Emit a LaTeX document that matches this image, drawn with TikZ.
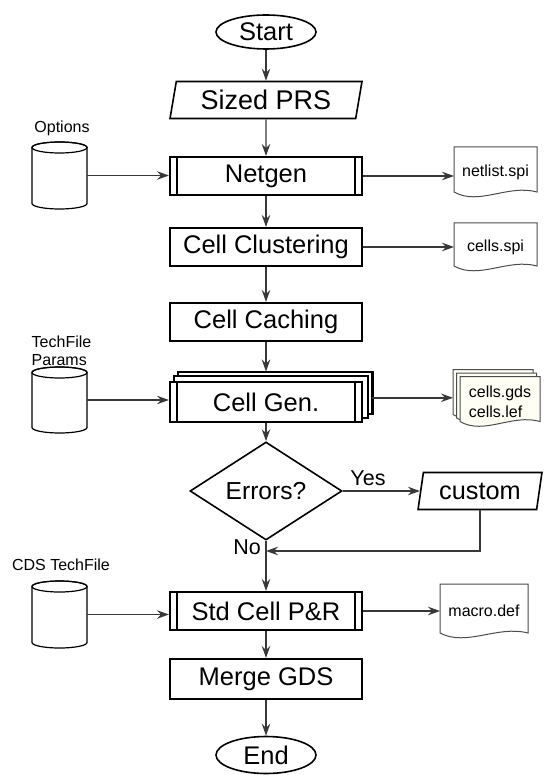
\documentclass[tikz,border=0pt]{standalone}
\usepackage{fontspec}
\setmainfont{Liberation Sans}
\usetikzlibrary{shapes.geometric, arrows.meta, backgrounds, calc}

% cylinder (data store) drawn round an invisible node
\newcommand\dbdraw[1]{%
  \path[dbline, fill=white]
    ([yshift=-5.5pt]#1.north west) -- ([yshift=5.5pt]#1.south west)
    arc[start angle=180, end angle=360, x radius=27.5pt, y radius=5.5pt]
    -- ([yshift=-5.5pt]#1.north east)
    arc[start angle=0, end angle=180, x radius=27.5pt, y radius=5.5pt] -- cycle;
  \draw[dbline] ([yshift=-5.5pt]#1.north) ellipse[x radius=27.5pt, y radius=5.5pt];}

% document sheet with a wavy lower edge; #2 = shift, #3 = fill
\newcommand\docdraw[3]{%
  \path[docline, fill=#3]
    ([shift={#2}]#1.north west) -- ([shift={#2}, yshift=5pt]#1.south west)
    .. controls ([shift={#2}, yshift=-9pt]$(#1.south west)!0.3!(#1.south east)$)
       and ([shift={#2}, yshift=13pt]$(#1.south west)!0.65!(#1.south east)$)
    .. ([shift={#2}, yshift=5pt]#1.south east)
    -- ([shift={#2}]#1.north east) -- cycle;}

\begin{document}
\begin{tikzpicture}[x=1pt, y=-1pt,
  mainfont/.style={font=\fontsize{25.5}{28}\selectfont},
  smallfont/.style={font=\fontsize{16}{19}\selectfont},
  line/.style={draw=black!78, line width=1.45pt},
  arrow/.style={line, -{Stealth[length=12pt, width=8.5pt, inset=4pt]}},
  procbox/.style={draw, line width=2.1pt, minimum width=192pt, minimum height=38pt,
    inner sep=0pt, fill=white, mainfont},
  predef/.style={procbox, path picture={
    \draw[line width=1.6pt]
      ([xshift=7pt]path picture bounding box.north west) -- ([xshift=7pt]path picture bounding box.south west)
      ([xshift=-7pt]path picture bounding box.north east) -- ([xshift=-7pt]path picture bounding box.south east);}},
  terminal/.style={ellipse, draw, line width=1.6pt, minimum width=100pt, minimum height=34pt,
    inner sep=0pt, mainfont},
  iobox/.style={trapezium, trapezium left angle=77, trapezium right angle=103,
    trapezium stretches=true, draw, line width=1.6pt, minimum height=37pt, inner sep=0pt, mainfont},
  decision/.style={diamond, draw, line width=1.6pt, minimum width=152pt, minimum height=72pt,
    inner sep=0pt, font=\fontsize{24.6}{27}\selectfont},
  dbnode/.style={minimum width=55pt, minimum height=67pt, inner sep=0pt, outer sep=0pt},
  dbline/.style={draw=black, line width=1.2pt},
  docnode/.style={inner sep=0pt, outer sep=0pt, smallfont, align=center},
  docline/.style={draw=black!70, line width=1pt},
  tag/.style={smallfont, inner sep=0pt},
  answer/.style={font=\fontsize{21.5}{24}\selectfont, inner sep=0pt},
]
\useasboundingbox (0,0) rectangle (544,775);

% main flow
\node[terminal] (start) at (266,32) {Start};
\node[iobox, minimum width=192pt, font=\fontsize{27}{30}\selectfont] (prs) at (266,100) {Sized PRS};
\node[predef] (netgen) at (266,176) {Netgen};
\node[procbox] (clust) at (266,247) {Cell Clustering};
\node[procbox] (cache) at (266,322) {Cell Caching};
\node[predef, minimum height=40pt] (cellgen) at (266,402) {Cell Gen.};
\node[decision] (errors) at (266,491) {Errors?};
\node[iobox, minimum width=124pt, font=\fontsize{25.3}{28}\selectfont] (custom) at (480,491) {custom};
\coordinate (nojoin) at (266,551);
\node[predef] (std) at (266,611) {Std Cell P\&R};
\node[procbox, minimum height=40pt] (merge) at (266,679) {Merge GDS};
\node[terminal, minimum height=37pt] (end) at (266,755) {End};

% data stores
\node[dbnode] (opt) at (59.5,175.5) {};
\node[tag] (optlabel) at (62,128) {Options};
\node[dbnode, minimum height=66pt] (tech) at (59.5,400) {};
\node[tag, anchor=west] (techlabel1) at (31.5,342) {TechFile};
\node[tag, anchor=west] (techlabel2) at (31.5,360.5) {Params};
\node[dbnode] (cds) at (59.5,614.5) {};
\node[tag] (cdslabel) at (61,565) {CDS TechFile};

% output files
\node[docnode, minimum width=83pt, minimum height=50pt] (netlist) at (495.5,172) {netlist.spi};
\node[docnode, minimum width=83pt, minimum height=48pt] (cellsspi) at (495.5,247) {cells.spi};
\node[docnode, minimum width=80pt, minimum height=50pt, align=left] (gds) at (500,401.5) {cells.gds\\[1pt]cells.lef};
\node[docnode, minimum width=88pt, minimum height=54pt] (macro) at (484,611) {macro.def};

% connector ends on the stacked shapes
\coordinate (cgtop) at ([yshift=9.4pt]cellgen.north);
\coordinate (cgright) at ([shift={(9.4pt,4.2pt)}]cellgen.east);
\coordinate (gdsback) at ([xshift=-7pt]gds.west);

\begin{pgfonlayer}{background}
  % stacked copies behind Cell Gen.
  \draw[line width=2.1pt, fill=white] ([shift={(9.4pt,9.4pt)}]cellgen.north west) rectangle ([shift={(9.4pt,9.4pt)}]cellgen.south east);
  \draw[line width=2.1pt, fill=white] ([shift={(4.7pt,4.7pt)}]cellgen.north west) rectangle ([shift={(4.7pt,4.7pt)}]cellgen.south east);
  \dbdraw{opt}
  \dbdraw{tech}
  \dbdraw{cds}
  \docdraw{netlist}{(0pt,0pt)}{white}
  \docdraw{cellsspi}{(0pt,0pt)}{white}
  \docdraw{gds}{(-7pt,7pt)}{yellow!4}
  \docdraw{gds}{(-3.5pt,3.5pt)}{yellow!4}
  \docdraw{gds}{(0pt,0pt)}{yellow!4}
  \docdraw{macro}{(0pt,0pt)}{white}
\end{pgfonlayer}

% connectors
\draw[arrow] (start) -- (prs);
\draw[arrow] (prs) -- (netgen);
\draw[arrow] (opt.east) -- (opt.east -| netgen.west);
\draw[arrow] (netgen.east) -- (netgen.east -| netlist.west);
\draw[arrow] (netgen) -- (clust);
\draw[arrow] (clust.east) -- (clust.east -| cellsspi.west);
\draw[arrow] (clust) -- (cache);
\draw[arrow] (cache.south) -- (cgtop);
\draw[arrow] (tech.east) -- (tech.east -| cellgen.west);
\draw[arrow] (cgright) -- (cgright -| gdsback);
\draw[arrow] (cellgen.south) -- (errors.north);
\draw[arrow] (errors.east) -- (errors.east -| custom.west);
\node[answer] (yes) at (368,478) {Yes};
\draw[arrow] (custom.south) |- (nojoin);
\node[answer, anchor=east] (no) at (261,547) {No};
\draw[arrow] (errors.south) -- (std.north);
\draw[arrow] (cds.east) -- (cds.east -| std.west);
\draw[arrow] (std.east) -- (std.east -| macro.west);
\draw[arrow] (std) -- (merge);
\draw[arrow] (merge) -- (end);
\end{tikzpicture}
\end{document}
